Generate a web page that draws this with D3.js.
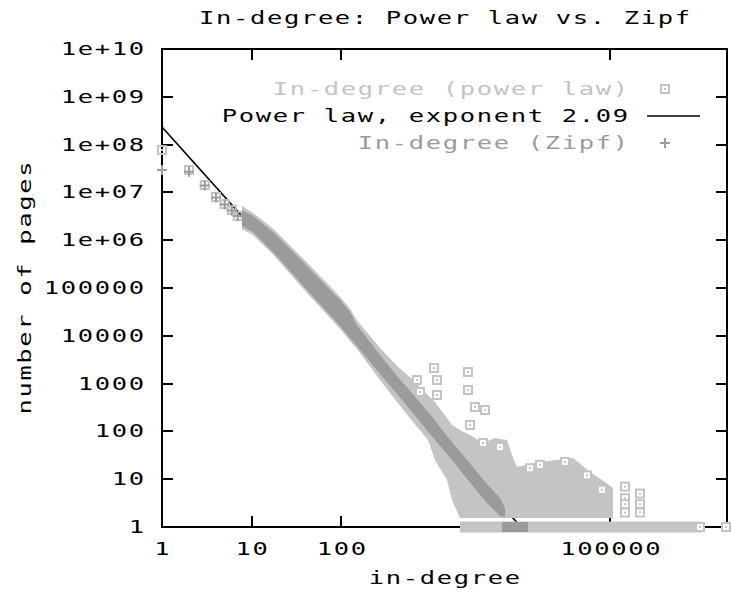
<!DOCTYPE html>
<html>
<head>
<meta charset="utf-8">
<script src="https://cdn.jsdelivr.net/npm/d3@7"></script>
<style>
body { margin: 0; background: #fff; }
svg { display: block; }
</style>
</head>
<body>
<script>

var W = 731;
var H = 594;
var margin = { top: 49, right: 4, bottom: 67, left: 162 };
var w = W - margin.left - margin.right;
var h = H - margin.top - margin.bottom;

var lightGrey = "#c4c4c4";
var midGrey = "#9b9b9b";

// axis ticks
var xTickValues = [1, 10, 100, 100000];
var xTickLabels = ["1", "10", "100", "100000"];
var yTickValues = [1, 10, 100, 1000, 10000, 100000, 1e6, 1e7, 1e8, 1e9, 1e10];
var yTickLabels = ["1", "10", "100", "1000", "10000", "100000", "1e+06", "1e+07", "1e+08", "1e+09", "1e+10"];

// fitted power law  n = fitScale * k^-fitExponent
var fitExponent = 2.09;
var fitScale = 2.34e8;

// first in-degrees, one point each
var plawK = [1, 2, 3, 4, 5, 6, 7];
var plawN = [7.7e7, 2.94e7, 1.43e7, 8.0e6, 5.7e6, 4.28e6, 3.21e6];
var zipfK = [1, 2, 3, 4, 5, 6, 7];
var zipfN = [2.94e7, 2.7e7, 1.4e7, 7.8e6, 5.6e6, 4.2e6, 3.2e6];

// outline of the dense cloud of power law points (in-degree, low / high count)
var plCloudK = [7.8, 10.35, 17.3, 41.4, 96.6, 125, 149.5, 270, 418, 630, 925, 1108, 1508, 1714,
    2105, 2721, 3800, 5170, 7040, 8000, 9100, 16430, 38330, 59320, 87150, 107100];
var plCloudHi = [5.2e6, 3.7e6, 1.75e6, 3.4e5, 66000, 37000, 21000, 5556, 2335, 1189, 577, 412, 191, 136,
    107, 84.1, 57.2, 72.8, 66.1, 32.1, 18, 22.9, 27.8, 14.1, 8.74, 6.54];
var plCloudLo = [1.7e6, 1.28e6, 5.0e5, 79000, 14000, 7800, 5300, 1189, 412, 157, 66.1, 25.2, 9.62, 3.67,
    1.55, 1.55, 1.55, 1.55, 1.55, 1.55, 1.55, 1.55, 1.55, 1.55, 1.55, 1.55];

// outline of the dense Zipf points
var zipfCloudK = [7.8, 10.35, 17.3, 41.4, 96.6, 125, 149.5, 270, 418, 974, 1508, 2585, 4211, 5882, 6686];
var zipfCloudHi = [4.28e6, 3.21e6, 1.485e6, 2.89e5, 56100, 31470, 16830, 3966, 1442, 231, 80.1, 24, 7.94, 4.04, 2.5];
var zipfCloudLo = [1.98e6, 1.485e6, 5.66e5, 90800, 16030, 8995, 6117, 1588, 606, 88.2, 33.7, 9.62, 3.18, 1.7, 1.62];

// runs of in-degrees with exactly one page
var plOnesFrom = 2393;
var plOnesTo = 9.25e5;
var zipfOnesFrom = 7035;
var zipfOnesTo = 10600;

// scattered power law points above the cloud
var outK = [1080, 698, 1166, 754, 1166, 2585, 2585, 3094, 4000, 2721, 3800, 5882, 12700, 16430, 31220,
    54900, 80700, 145700, 214000, 145700, 214000, 145700, 214000, 145700, 1.0e6, 1.95e6];
var outN = [2120, 1189, 1189, 667, 577, 1748, 735, 324, 280, 136, 57, 47, 17, 20, 23,
    12, 6, 7, 5, 4, 3, 3, 2, 2, 1, 1];

var svg = d3.select("body")
    .append("svg")
    .attr("width", W)
    .attr("height", H);

var g = svg.append("g")
    .attr("transform", "translate(" + margin.left + "," + margin.top + ")");

var xScale = d3.scaleLog()
    .domain([1, 2e6])
    .range([0, w]);

var yScale = d3.scaleLog()
    .domain([1, 1e10])
    .range([h, 0]);

// gnuplot-like wide monospace text, about 17px per character
var FS = 17, SX = 1.5, LS = 1.1;
function label(parent, str, x, y, anchor, color, rot) {
    var dx = anchor === "end" ? LS : (anchor === "middle" ? LS / 2 : 0);
    var t = parent.append("g")
        .attr("transform", "translate(" + x + "," + y + ")" + (rot ? " rotate(-90)" : "") + " scale(" + SX + ",1)");
    t.append("text")
        .attr("x", dx)
        .attr("y", 0)
        .attr("text-anchor", anchor)
        .attr("fill", color || "#000")
        .style("font-family", "'DejaVu Sans Mono', 'Liberation Mono', monospace")
        .style("font-size", FS + "px")
        .style("letter-spacing", LS + "px")
        .text(str);
}

// ticks, mirrored on both sides (under the data, as in the original)
var tickLen = 11;
var ticks = g.append("g").attr("stroke", "#000").attr("stroke-width", 2);
yTickValues.forEach(function (v) {
    var y = Math.round(yScale(v));
    ticks.append("line").attr("x1", 0).attr("x2", tickLen).attr("y1", y).attr("y2", y);
    ticks.append("line").attr("x1", w - tickLen).attr("x2", w).attr("y1", y).attr("y2", y);
});
xTickValues.forEach(function (v) {
    var x = Math.round(xScale(v));
    ticks.append("line").attr("x1", x).attr("x2", x).attr("y1", h).attr("y2", h - tickLen);
    ticks.append("line").attr("x1", x).attr("x2", x).attr("y1", 0).attr("y2", tickLen);
});

g.append("rect")
    .attr("x", 0)
    .attr("y", 0)
    .attr("width", w)
    .attr("height", h)
    .attr("fill", "none")
    .attr("stroke", "#000")
    .attr("stroke-width", 2);

// tick labels
yTickValues.forEach(function (v, i) {
    label(svg, yTickLabels[i], margin.left - 18, margin.top + yScale(v) + 6, "end");
});
xTickValues.forEach(function (v, i) {
    label(svg, xTickLabels[i], margin.left + xScale(v), 555, "middle");
});

label(svg, "In-degree: Power law vs. Zipf", margin.left + w / 2, 24, "middle");
label(svg, "in-degree", margin.left + w / 2, 584, "middle");
label(svg, "number of pages", 31, margin.top + h / 2, "middle", "#000", true);

// fitted line first, the points cover it
var kEnd = Math.pow(fitScale, 1 / fitExponent);
var fitLine = d3.line()
    .x(function (k) { return xScale(k); })
    .y(function (k) { return yScale(fitScale * Math.pow(k, -fitExponent)); });
g.append("path")
    .datum([1, kEnd])
    .attr("d", fitLine)
    .attr("fill", "none")
    .attr("stroke", "#000")
    .attr("stroke-width", 1.6);

function boxMarkers(sel, color, fill) {
    sel.append("rect")
        .attr("x", -4).attr("y", -4)
        .attr("width", 8).attr("height", 8)
        .attr("fill", fill)
        .attr("stroke", color)
        .attr("stroke-width", 2);
    sel.append("rect")
        .attr("x", -1).attr("y", -1)
        .attr("width", 2).attr("height", 2)
        .attr("fill", color);
}
function plusMarkers(sel, color) {
    sel.append("path")
        .attr("d", "M-5,0H5M0,-5V5")
        .attr("stroke", color)
        .attr("stroke-width", 2)
        .attr("fill", "none");
}

var cloudArea = d3.area()
    .x(function (d) { return xScale(d.k); })
    .y0(function (d) { return yScale(d.lo); })
    .y1(function (d) { return yScale(d.hi); });

// power law points
var plCloud = plCloudK.map(function (k, i) { return { k: k, lo: plCloudLo[i], hi: plCloudHi[i] }; });
g.append("path")
    .datum(plCloud)
    .attr("d", cloudArea)
    .attr("fill", lightGrey);

g.append("rect")
    .attr("x", xScale(plOnesFrom) - 5)
    .attr("y", yScale(1) - 5.5)
    .attr("width", xScale(plOnesTo) - xScale(plOnesFrom) + 10)
    .attr("height", 11)
    .attr("fill", lightGrey);

g.selectAll(".pl-first")
    .data(plawK)
    .enter()
    .append("g")
    .attr("class", "pl-first")
    .attr("transform", function (d, i) { return "translate(" + xScale(d) + "," + yScale(plawN[i]) + ")"; })
    .call(boxMarkers, lightGrey, "none");

g.selectAll(".pl-out")
    .data(outK)
    .enter()
    .append("g")
    .attr("class", "pl-out")
    .attr("transform", function (d, i) { return "translate(" + xScale(d) + "," + yScale(outN[i]) + ")"; })
    .call(boxMarkers, lightGrey, "#fff");

// Zipf points
var zipfCloud = zipfCloudK.map(function (k, i) { return { k: k, lo: zipfCloudLo[i], hi: zipfCloudHi[i] }; });
g.append("path")
    .datum(zipfCloud)
    .attr("d", cloudArea)
    .attr("fill", midGrey);

g.append("rect")
    .attr("x", xScale(zipfOnesFrom) - 5)
    .attr("y", yScale(1) - 5)
    .attr("width", xScale(zipfOnesTo) - xScale(zipfOnesFrom) + 10)
    .attr("height", 10)
    .attr("fill", midGrey);

g.selectAll(".zipf-first")
    .data(zipfK)
    .enter()
    .append("g")
    .attr("class", "zipf-first")
    .attr("transform", function (d, i) { return "translate(" + xScale(d) + "," + yScale(zipfN[i]) + ")"; })
    .call(plusMarkers, midGrey);

// legend
var legX = 628, legMark = 665;
var legend = svg.append("g");
label(legend, "In-degree (power law)", legX, 95, "end", lightGrey);
label(legend, "Power law, exponent 2.09", legX, 122, "end", "#000");
label(legend, "In-degree (Zipf)", legX, 149, "end", midGrey);
legend.append("g")
    .attr("transform", "translate(" + legMark + ",89)")
    .call(boxMarkers, lightGrey, "none");
legend.append("line")
    .attr("x1", 647).attr("x2", 700)
    .attr("y1", 116).attr("y2", 116)
    .attr("stroke", "#000")
    .attr("stroke-width", 1.6);
legend.append("g")
    .attr("transform", "translate(" + legMark + ",143)")
    .call(plusMarkers, midGrey);

</script>
</body>
</html>
